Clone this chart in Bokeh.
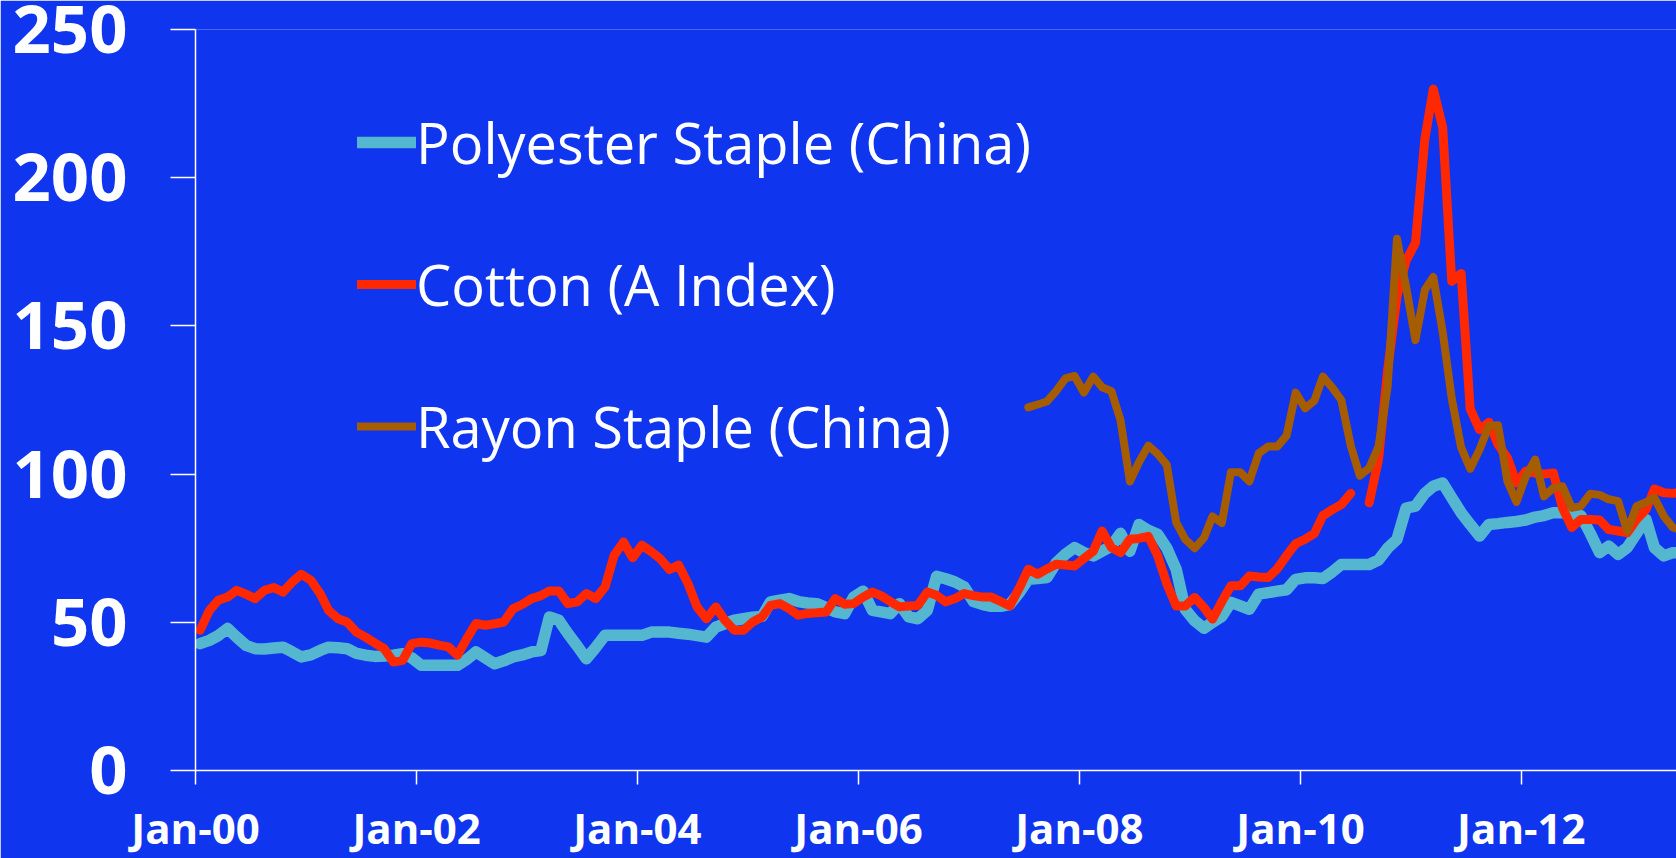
import numpy as np
import pandas as pd
from datetime import datetime
from bokeh.plotting import figure
from bokeh.models import (Range1d, FixedTicker, DatetimeTickFormatter, Legend,
                          LegendItem, ColumnDataSource)
from bokeh.embed import file_html
from bokeh.resources import INLINE

NaN = float("nan")

# ---- data: monthly, Jan 2000 .. Jun 2013 (162 months) ----
start_month = "2000-01-01"
n_months = 162

polyester = [
    42.8, 43.9, 45.5, 47.9, 45.0, 42.2, 41.1, 41.0, 41.3, 41.6, 40.0, 38.3,
    39.0, 40.5, 41.6, 41.4, 41.1, 39.5, 38.9, 38.5, 38.6, 38.9, 39.4, 38.0,
    35.5, 35.5, 35.5, 35.5, 35.5, 37.5, 40.0, 38.0, 36.0, 37.0, 38.3, 39.0,
    40.0, 40.5, 51.8, 50.7, 46.2, 42.0, 37.7, 41.5, 45.6, 45.6, 45.6, 45.6,
    45.6, 46.7, 46.7, 46.7, 46.3, 46.0, 45.5, 45.0, 48.4, 49.5, 50.7, 51.2,
    51.7, 52.0, 56.9, 57.5, 58.0, 57.0, 56.5, 56.3, 55.0, 53.5, 52.9, 58.5,
    60.5, 54.0, 53.5, 52.9, 56.3, 51.8, 51.2, 54.0, 65.5, 64.7, 63.6, 62.0,
    57.0, 56.0, 55.4, 55.4, 56.0, 60.0, 64.5, 64.8, 65.1, 70.0, 73.0, 75.2,
    73.5, 72.4, 74.0, 75.7, 80.0, 74.0, 83.0, 81.0, 79.7, 75.0, 67.9, 54.4,
    50.5, 48.0, 50.0, 52.0, 56.7, 55.5, 54.4, 59.5, 60.0, 60.5, 61.0, 64.5,
    65.0, 65.0, 64.8, 67.0, 69.5, 69.5, 69.5, 69.5, 71.0, 75.0, 78.0, 88.5,
    89.2, 93.5, 95.9, 97.0, 92.0, 87.0, 83.0, 79.1, 83.0, 83.3, 83.7, 84.0,
    84.5, 85.5, 86.0, 87.0, 87.0, 86.5, 86.0, 80.0, 73.5, 75.7, 72.9, 75.2,
    80.0, 84.7, 75.2, 72.4, 73.5, 73.5,
]

cotton = [
    47.3, 54.0, 57.4, 58.5, 60.8, 59.5, 58.0, 60.8, 61.7, 60.2, 63.6, 66.2,
    64.2, 59.7, 54.0, 51.2, 50.1, 46.7, 45.0, 43.0, 41.1, 36.6, 37.2, 42.8,
    43.3, 43.0, 42.3, 41.7, 38.9, 44.5, 49.6, 49.0, 49.5, 50.1, 54.6, 56.0,
    58.0, 59.0, 60.6, 60.6, 56.3, 56.9, 59.7, 58.0, 61.9, 72.6, 77.1, 71.8,
    76.0, 73.8, 71.5, 67.8, 69.3, 63.1, 55.2, 51.2, 55.2, 50.7, 47.3, 47.3,
    50.1, 51.8, 55.7, 56.3, 54.6, 52.4, 53.0, 53.2, 53.5, 58.0, 56.1, 56.3,
    58.5, 60.2, 59.0, 57.0, 55.2, 55.5, 55.7, 60.2, 59.1, 56.9, 58.0, 59.7,
    59.0, 58.5, 58.5, 57.0, 55.5, 61.5, 67.9, 66.2, 68.0, 69.6, 69.3, 69.0,
    71.5, 74.0, 80.8, 75.2, 73.5, 78.0, 78.3, 79.0, 72.4, 63.0, 55.5, 55.5,
    58.4, 55.0, 51.1, 57.0, 62.3, 62.3, 65.6, 65.3, 65.1, 68.0, 72.5, 76.5,
    78.0, 80.0, 86.0, 88.0, 89.7, 93.5, NaN, 90.3, 105.0, 135.0, 160.0, 172.0,
    178.0, 213.0, 229.9, 217.0, 165.0, 167.7, 122.0, 115.0, 117.5, 110.0, 105.5, 97.0,
    101.0, 100.3, 100.0, 100.4, 88.6, 82.0, 84.7, 84.7, 84.5, 81.3, 80.8, 80.2,
    84.7, 88.0, 95.0, 93.7, 93.5, 94.0,
]

rayon = [NaN] * 90 + [
    122.5, 123.5, 124.5, 128.0, 132.3, 133.1, 127.5, 132.9, 129.3, 128.0, 118.2, 97.5,
    104.0, 109.6, 106.8, 103.1, 83.7, 78.0, 75.0, 78.5, 85.7, 83.5, 100.6, 100.6,
    97.5, 107.0, 109.3, 109.3, 113.0, 127.5, 122.2, 124.8, 132.9, 129.2, 125.0, 109.6,
    99.5, 102.0, 109.3, 129.5, 179.4, 163.2, 145.2, 162.1, 166.5, 148.0, 125.5, 109.0,
    101.8, 108.3, 116.3, 116.5, 97.6, 90.6, 99.3, 104.9, 92.5, 95.3, 95.9, 88.6,
    89.2, 93.4, 93.0, 91.5, 90.9, 80.7, 89.2, 90.5, 92.0, 85.8, 82.0, 81.0,
]

series_names = ["Polyester Staple (China)", "Cotton (A Index)", "Rayon Staple (China)"]
tick_years = [2000, 2002, 2004, 2006, 2008, 2010, 2012]
y_ticks = [0, 50, 100, 150, 200, 250]

# ---- styling ----
BG = "#1035EE"
C_POLY = "#55B6CF"
C_COT = "#FF2800"
C_RAY = "#A65C00"

# month dates placed mid-month (category centres)
dates = pd.date_range(start_month, periods=n_months, freq="MS") + pd.Timedelta(days=15)
src = ColumnDataSource(dict(date=dates, poly=polyester, cot=cotton, ray=rayon))

p = figure(width=1676, height=858, x_axis_type="datetime",
           output_backend="svg", toolbar_location=None, title=None,
           x_range=Range1d(datetime(2000, 1, 1), datetime(2013, 5, 28)),
           y_range=Range1d(0, 250),
           min_border_left=195, min_border_right=0,
           min_border_top=29, min_border_bottom=86)
p.background_fill_color = BG
p.border_fill_color = BG
p.outline_line_color = None
p.grid.visible = False

r1 = p.line("date", "poly", source=src, line_color=C_POLY, line_width=11.5,
            line_cap="round", line_join="round")
r2 = p.line("date", "cot", source=src, line_color=C_COT, line_width=9,
            line_cap="round", line_join="round")
r3 = p.line("date", "ray", source=src, line_color=C_RAY, line_width=8,
            line_cap="round", line_join="round")

# axes
xa = p.xaxis[0]
xa.ticker = FixedTicker(ticks=[pd.Timestamp(f"{y}-01-01").value // 10**6 for y in tick_years])
xa.formatter = DatetimeTickFormatter(years="%b-%y", months="%b-%y", days="%b-%y",
                                     hours="%b-%y", hourmin="%b-%y", minutes="%b-%y")
ya = p.yaxis[0]
ya.ticker = FixedTicker(ticks=y_ticks)

for ax in (xa, ya):
    ax.axis_line_color = "white"
    ax.axis_line_width = 1.5
    ax.major_tick_line_color = "white"
    ax.major_tick_line_width = 1.5
    ax.major_tick_in = 0
    ax.minor_tick_line_color = None
    ax.minor_tick_in = 0
    ax.minor_tick_out = 0
    ax.major_label_text_color = "white"
    ax.major_label_text_font = "Open Sans"
    ax.major_label_text_font_style = "bold"

xa.major_tick_out = 14
xa.major_label_standoff = 14
xa.major_label_text_font_size = "42px"
ya.major_tick_out = 25
ya.major_label_standoff = 43
ya.major_label_text_font_size = "67px"

legend = Legend(items=[LegendItem(label=series_names[0], renderers=[r1]),
                       LegendItem(label=series_names[1], renderers=[r2]),
                       LegendItem(label=series_names[2], renderers=[r3])],
                location=(162, 304), orientation="vertical",
                spacing=62, padding=0, margin=0, label_standoff=0,
                glyph_width=59, glyph_height=80, label_height=80,
                label_text_font="Open Sans", label_text_font_size="56px",
                label_text_color="white",
                background_fill_alpha=0, border_line_alpha=0)
p.add_layout(legend)

open("out.html", "w").write(file_html(p, INLINE))
